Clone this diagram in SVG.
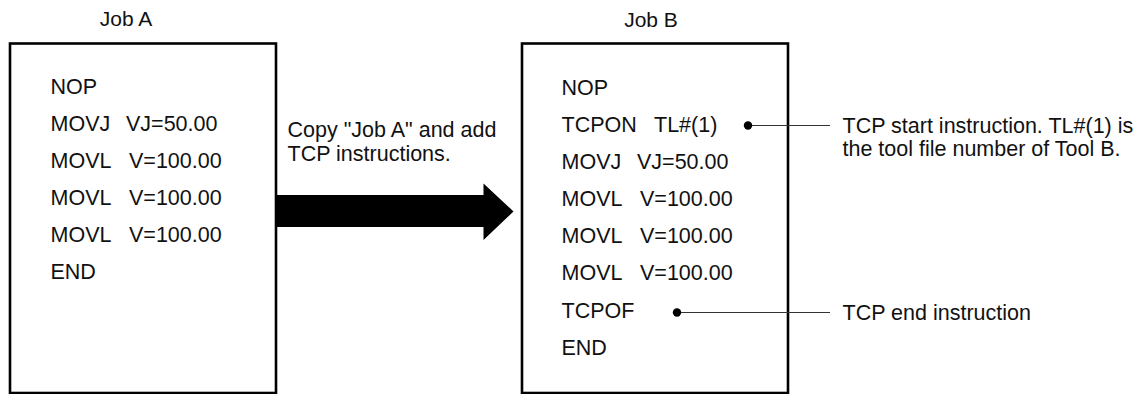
<svg xmlns="http://www.w3.org/2000/svg" width="1138" height="394" viewBox="0 0 1138 394">
<style>
text{font-family:"Liberation Sans",Arial,sans-serif;font-size:21.5px;fill:#111}
.t{font-size:21px;text-anchor:middle}
.box{fill:#fff;stroke:#000;stroke-width:2.6}
.lead{stroke:#333;stroke-width:1.2;fill:none}
.dot{fill:#000}
</style>
<rect width="1138" height="394" fill="#fff"/>
<g id="jobA">
<text class="t" x="126" y="26">Job A</text>
<rect class="box" x="10" y="43.5" width="266" height="349.5"/>
<text x="50.5" y="94">NOP</text>
<text x="50.5" y="131">MOVJ</text>
<text x="126" y="131">VJ=50.00</text>
<text x="50.5" y="168">MOVL</text>
<text x="129" y="168">V=100.00</text>
<text x="50.5" y="205">MOVL</text>
<text x="129" y="205">V=100.00</text>
<text x="50.5" y="242">MOVL</text>
<text x="129" y="242">V=100.00</text>
<text x="50.5" y="279">END</text>
</g>
<g id="jobB">
<text class="t" x="651" y="27">Job B</text>
<rect class="box" x="522" y="43.5" width="266" height="349.5"/>
<text x="561.5" y="95">NOP</text>
<text x="561.5" y="132">TCPON</text>
<text x="654" y="132">TL#(1)</text>
<text x="561.5" y="169">MOVJ</text>
<text x="637" y="169">VJ=50.00</text>
<text x="561.5" y="206">MOVL</text>
<text x="640" y="206">V=100.00</text>
<text x="561.5" y="243">MOVL</text>
<text x="640" y="243">V=100.00</text>
<text x="561.5" y="280">MOVL</text>
<text x="640" y="280">V=100.00</text>
<text x="561.5" y="318">TCPOF</text>
<text x="561.5" y="355">END</text>
</g>
<g id="copyLabel">
<text x="287.5" y="137">Copy "Job A" and add</text>
<text x="287.5" y="161">TCP instructions.</text>
</g>
<g id="startNote">
<text x="842.5" y="133">TCP start instruction. TL#(1) is</text>
<text x="842.5" y="156">the tool file number of Tool B.</text>
</g>
<g id="endNote">
<text x="842.5" y="320">TCP end instruction</text>
</g>
<g id="connectors">
<polygon fill="#000" points="276,195 483.5,195 483.5,183.5 513.5,211.5 483.5,240 483.5,227 276,227"/>
<line class="lead" x1="748" y1="125.5" x2="830" y2="125.5"/>
<circle class="dot" cx="748" cy="125.5" r="4.2"/>
<line class="lead" x1="677" y1="312.5" x2="830" y2="312.5"/>
<circle class="dot" cx="677" cy="312.5" r="4.2"/>
</g>
</svg>
